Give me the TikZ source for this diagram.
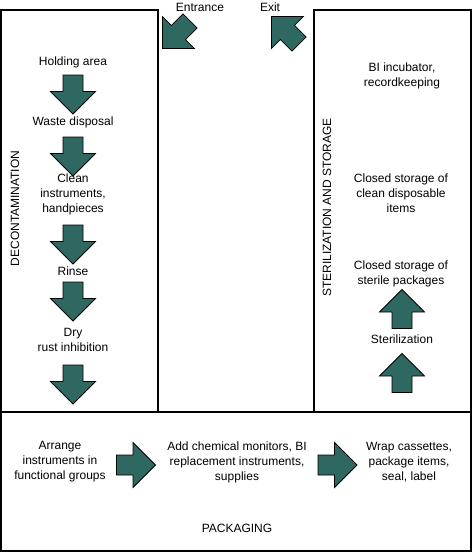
\documentclass[tikz,border=0pt]{standalone}
\usepackage{fontspec}
\setmainfont{Liberation Sans}
\definecolor{arrowteal}{RGB}{47,104,97}
\tikzset{
  arrowfill/.style={fill=arrowteal, draw=black, line width=0.8pt, line join=miter},
  flowarrow/.pic={
    \path[arrowfill] (-19.5,-10) -- (-3,-10) -- (-3,-22.5) -- (19.5,0) -- (-3,22.5) -- (-3,10) -- (-19.5,10) -- cycle;
    \coordinate (-c) at (0,0);
  },
  zone/.style={draw=black, line width=1.2pt},
  lbl/.style={font=\fontsize{12}{15}\selectfont, align=center, inner sep=0pt, text=black},
}
\begin{document}
\begin{tikzpicture}[x=1pt,y=-1pt]
\useasboundingbox (0,0) rectangle (472,552);
% zones
\draw[zone] (1,10) rectangle (158,412);
\draw[zone] (314,10) rectangle (471,412);
\draw[zone] (1,412) rectangle (471,551);
% entrance / exit
\node[lbl, anchor=base] (entrance) at (200,11) {Entrance};
\node[lbl, anchor=base] (exit) at (270,11) {Exit};
\pic[rotate=225] (inarrow) at (176.3,34.7) {flowarrow};
\pic[rotate=135] (outarrow) at (285.3,30.3) {flowarrow};
% decontamination
\node[lbl, rotate=90] (decon) at (15,208.5) {DECONTAMINATION};
\node[lbl] (hold) at (73,62) {Holding area};
\pic[rotate=-90] (d1) at (73,94.5) {flowarrow};
\node[lbl] (waste) at (73,122) {Waste disposal};
\pic[rotate=-90] (d2) at (73,156.5) {flowarrow};
\node[lbl] (clean) at (73,194) {Clean\\instruments,\\handpieces};
\pic[rotate=-90] (d3) at (73,244.5) {flowarrow};
\node[lbl] (rinse) at (73,271) {Rinse};
\pic[rotate=-90] (d4) at (73,301.5) {flowarrow};
\node[lbl] (dry) at (73,340) {Dry\\rust inhibition};
\pic[rotate=-90] (d5) at (73,384.5) {flowarrow};
% sterilization and storage
\node[lbl, rotate=90] (sas) at (327,207.5) {STERILIZATION AND STORAGE};
\node[lbl] (bi) at (402,76) {BI incubator,\\recordkeeping};
\node[lbl] (cdisp) at (401,193) {Closed storage of\\clean disposable\\items};
\node[lbl] (csterile) at (401,274) {Closed storage of\\sterile packages};
\pic[rotate=90] (u1) at (402,309) {flowarrow};
\node[lbl] (steril) at (402,339) {Sterilization};
\pic[rotate=90] (u2) at (402,373) {flowarrow};
% packaging
\node[lbl] (arrange) at (60,462) {Arrange\\instruments in\\functional groups};
\pic (r1) at (136,465) {flowarrow};
\node[lbl] (add) at (237,462) {Add chemical monitors, BI\\replacement instruments,\\supplies};
\pic (r2) at (337.5,465) {flowarrow};
\node[lbl] (wrap) at (409,462) {Wrap cassettes,\\package items,\\seal, label};
\node[lbl] (pack) at (237,528) {PACKAGING};
\end{tikzpicture}
\end{document}
